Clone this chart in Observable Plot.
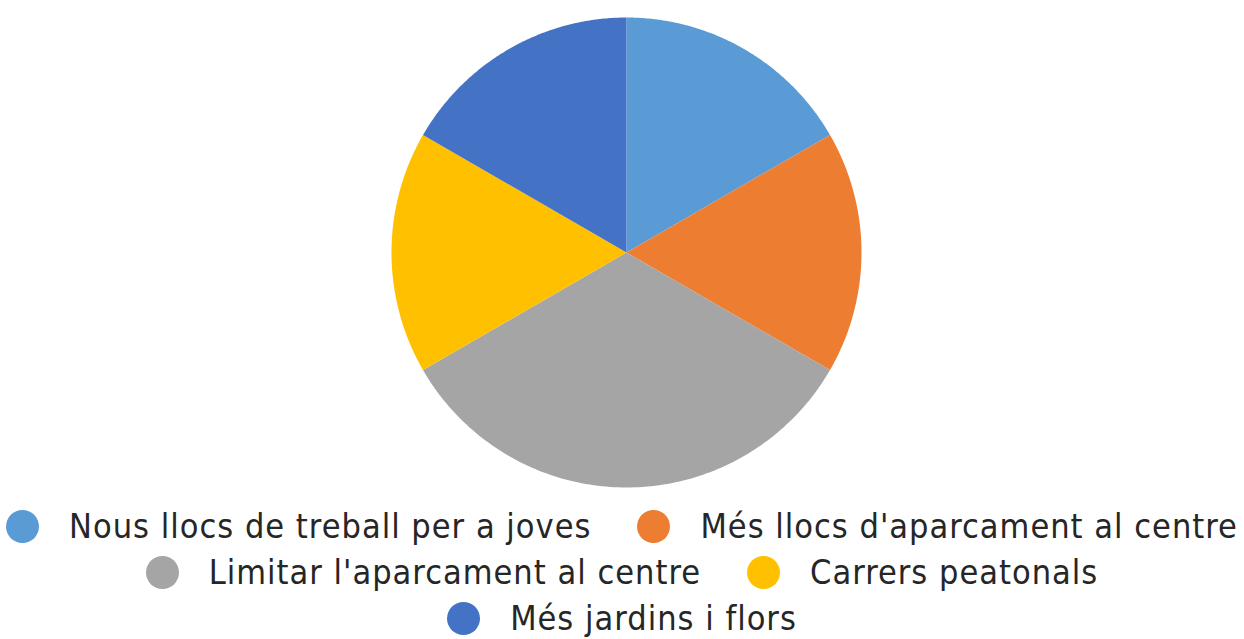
<!DOCTYPE html>
<html>
<head>
<meta charset="utf-8">
<script src="https://cdn.jsdelivr.net/npm/d3@7"></script>
<script src="https://cdn.jsdelivr.net/npm/@observablehq/plot@0.6"></script>
<style>
  html, body { margin: 0; padding: 0; background: #fff; overflow: hidden; }
  #chart { width: 1244px; }
  .legend { width: 1244px; display: flex; flex-direction: column; align-items: center; font-family: "DejaVu Sans Condensed", "DejaVu Sans", sans-serif; font-size: 34px; color: #262626; letter-spacing: 1px; }
  .row { display: flex; justify-content: center; height: 46px; align-items: center; white-space: nowrap; }
  .item { display: flex; align-items: center; margin: 0 23px; white-space: nowrap; }
  .sw { width: 33px; height: 33px; border-radius: 50%; margin-right: 30px; flex: none; }
</style>
</head>
<body>
<div id="chart"></div>
<script>
const categories = ["Nous llocs de treball per a joves", "Més llocs d'aparcament al centre", "Limitar l'aparcament al centre", "Carrers peatonals", "Més jardins i flors"];
const values = [1, 1, 2, 1, 1];
const colors = ["#5B9BD5", "#ED7D31", "#A5A5A5", "#FFC000", "#4472C4"];
const legendRows = [[0, 1], [2, 3], [4]];

const arcs = d3.pie().sort(null).value(d => d.value)(categories.map((c, i) => ({category: c, value: values[i]})));
const pts = [];
for (const a of arcs) {
  const c = a.data.category;
  pts.push({category: c, x: 0, y: 0});
  const n = 120;
  for (let k = 0; k <= n; k++) {
    const t = a.startAngle + (a.endAngle - a.startAngle) * k / n;
    pts.push({category: c, x: Math.sin(t), y: Math.cos(t)});
  }
  pts.push({category: c, x: 0, y: 0});
}

const W = 1244, H = 503, R = 235, cx = 626, cy = 252;
const plot = Plot.plot({
  width: W, height: H,
  marginLeft: cx - R, marginRight: W - cx - R, marginTop: cy - R, marginBottom: H - cy - R,
  x: {domain: [-1, 1], axis: null},
  y: {domain: [-1, 1], axis: null},
  color: {domain: categories, range: colors},
  marks: [
    Plot.line(pts, {x: "x", y: "y", z: "category", fill: "category", stroke: "none", curve: "linear"})
  ]
});
plot.style.display = "block";
document.getElementById("chart").appendChild(plot);

const legend = document.createElement("div");
legend.className = "legend";
for (const row of legendRows) {
  const r = document.createElement("div");
  r.className = "row";
  for (const i of row) {
    const it = document.createElement("div");
    it.className = "item";
    const sw = document.createElement("span");
    sw.className = "sw";
    sw.style.background = colors[i];
    const tx = document.createElement("span");
    tx.textContent = categories[i];
    it.appendChild(sw); it.appendChild(tx);
    r.appendChild(it);
  }
  legend.appendChild(r);
}
document.getElementById("chart").appendChild(legend);
</script>
</body>
</html>
